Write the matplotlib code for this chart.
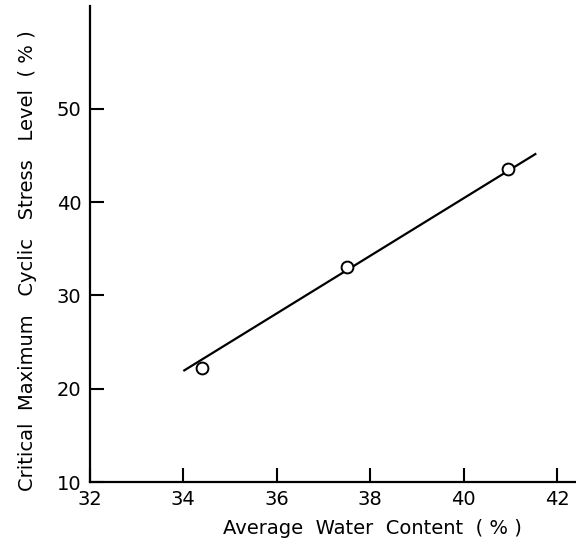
import matplotlib
matplotlib.use("Agg")
import matplotlib.pyplot as plt

# Measured points: average water content vs critical stress level
water_content = [34.4, 37.5, 40.95]
stress_level = [22.2, 33.0, 43.5]

# Fitted straight line end points
fit_x = [34.0, 41.55]
fit_y = [21.9, 45.2]

x_ticks = [32, 34, 36, 38, 40, 42]
y_ticks = [10, 20, 30, 40, 50]

fig = plt.figure(figsize=(5.76, 5.49), dpi=100)
ax = fig.add_axes([0.156, 0.122, 0.844, 0.867])

ax.plot(fit_x, fit_y, color="black", lw=1.6, solid_capstyle="butt")
ax.plot(water_content, stress_level, linestyle="none", marker="o",
        markersize=8.5, markerfacecolor="white", markeredgecolor="black",
        markeredgewidth=1.4)

ax.set_xlim(32, 42.4)
ax.set_ylim(10, 61)
ax.set_xticks(x_ticks)
ax.set_yticks(y_ticks)

for side in ("top", "right"):
    ax.spines[side].set_visible(False)
for side in ("left", "bottom"):
    ax.spines[side].set_linewidth(1.6)

ax.tick_params(direction="in", length=10, width=1.5, labelsize=14, pad=6)

ax.text(0.582, -0.097, "Average  Water  Content  ( % )", fontsize=14,
        ha="center", va="center", transform=ax.transAxes)
ax.text(-0.128, 0.466, "Critical  Maximum   Cyclic   Stress   Level  ( % )",
        fontsize=14, rotation=90, ha="center", va="center",
        transform=ax.transAxes)

fig.savefig("out.png", dpi=100)
